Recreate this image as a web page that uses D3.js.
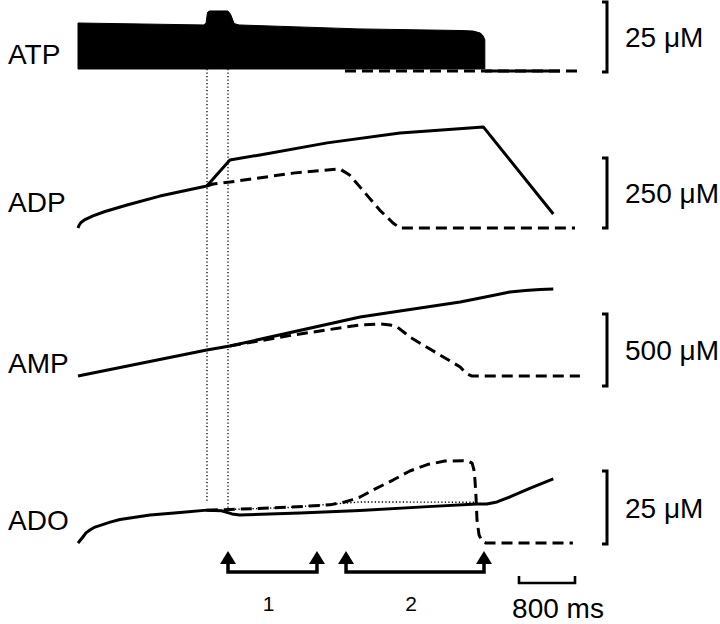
<!DOCTYPE html>
<html>
<head>
<meta charset="utf-8">
<script src="https://cdn.jsdelivr.net/npm/d3@7"></script>
<style>
  body { margin: 0; background: #fff; }
  text { font-family: Arial, "Liberation Sans", sans-serif; fill: #000; }
</style>
</head>
<body>
<div id="chart"></div>
<script>
// trace names and scale bars
const panelNames = ["ATP", "ADP", "AMP", "ADO"];
const scaleLabels = ["25 \u03bcM", "250 \u03bcM", "500 \u03bcM", "25 \u03bcM"];
const scaleMax = [25, 250, 500, 25];

// [time ms, concentration µM]
const atpTop = [[0,17.5],[1800,16.8],[1830,17.6],[1850,21.3],[1880,21.8],[2140,21.8],[2180,20.6],[2230,17.3],[2300,16.8],[4000,15.4],[5500,14.8],[5650,14.6],[5750,13.9],[5790,12.8],[5812,11.5]];
const atpBase = 1.07;
const atpSolidTail = [[5812,0.36],[6886,0.36]];
const atpDashed = [[3814,0.36],[7143,0.36]];

const adpSolid = [[0,0],[14,9],[43,20],[100,30],[214,43],[386,59],[700,82],[1170,114],[1840,150],[2170,243],[2600,261],[3560,304],[4600,339],[5000,346],[5790,361],[6790,50]];
const adpDashed = [[1840,150],[1930,157],[2170,164],[3070,196],[3740,211],[3880,189],[4030,146],[4310,64],[4500,18],[4600,0],[7100,0]];

const ampSolid = [[0,69],[1840,250],[2170,278],[4030,479],[4600,521],[5460,583],[5890,625],[6170,653],[6390,663],[6600,670],[6790,674]];
const ampDashed = [[2170,278],[3070,354],[4030,424],[4170,427],[4310,431],[4460,424],[4560,410],[4670,368],[4740,340],[5460,132],[5510,105],[5560,84],[5630,69],[7170,69]];

const adoSolid = [[0,0.3],[29,1.2],[70,2.4],[114,3.8],[170,4.8],[243,5.8],[460,7.5],[600,8.4],[1030,9.9],[1460,10.8],[1840,11.6],[2050,11.4],[2200,10.3],[2310,9.9],[3170,10.6],[4030,11.5],[5000,12.8],[5700,13.7],[5840,13.7],[5986,14.4],[6170,16.1],[6470,19.2],[6790,22.3]];
const adoDashed = [[1840,11.6],[2170,11.8],[3000,12.6],[3600,13.4],[3810,14.4],[3910,15.1],[4030,16.1],[4240,18.8],[4500,21.9],[4740,25.0],[4990,27.2],[5240,28.4],[5500,28.5],[5570,28.4],[5630,27.7],[5657,25.3],[5671,21.9],[5686,16.1],[5700,8.2],[5729,3.1],[5771,1.0],[5829,0.3],[7070,0.3]];
const adoDotted = [[2143,11.8],[3000,12.5],[4030,14.4],[5700,14.3]];

// dotted markers across panels: time, ADO end value
const markerTimes = [1843, 2143];
const markerEnds = [14.0, 11.6];

// stimulation intervals
const intervals = [[2143,3414],[3829,5800]];
const intervalLabels = ["1", "2"];

const scaleBarStart = 6300, scaleBarMs = 800;

const W = 720, H = 624;
const svg = d3.select("#chart").append("svg")
  .attr("width", W).attr("height", H);

const x = d3.scaleLinear().domain([0, 8000]).range([78, 638]);

// panel y ranges: bracket bottom / top in pixels
const bands = [[72,2],[228,158],[386,314],[544,471]];
const ys = bands.map((b, i) => d3.scaleLinear().domain([0, scaleMax[i]]).range(b));

const line = y => d3.line().x(d => x(d[0])).y(d => y(d[1]));

function trace(data, y, dash, width) {
  svg.append("path")
    .datum(data)
    .attr("d", line(y))
    .attr("fill", "none")
    .attr("stroke", "#000")
    .attr("stroke-width", width || 3)
    .attr("stroke-linejoin", "round")
    .attr("stroke-linecap", "butt")
    .attr("stroke-dasharray", dash || null);
}

// dotted vertical markers
markerTimes.forEach((t, i) => {
  svg.append("line")
    .attr("x1", x(t)).attr("x2", x(t))
    .attr("y1", ys[0](atpBase)).attr("y2", ys[3](markerEnds[i]))
    .attr("stroke", "#000")
    .attr("stroke-width", 1.3)
    .attr("stroke-dasharray", "1.3,2.2");
});

// ATP
trace(atpDashed, ys[0], "11,6");
svg.append("path")
  .datum(atpTop)
  .attr("d", d3.area().x(d => x(d[0])).y0(ys[0](atpBase)).y1(d => ys[0](d[1])))
  .attr("fill", "#000")
  .attr("stroke", "#000")
  .attr("stroke-width", 1);
trace(atpSolidTail, ys[0]);

// ADP, AMP, ADO
trace(adpDashed, ys[1], "11,6");
trace(adpSolid, ys[1]);
trace(ampDashed, ys[2], "11,6");
trace(ampSolid, ys[2]);
trace(adoDotted, ys[3], "1.3,2.2", 1.4);
trace(adoDashed, ys[3], "11,6");
trace(adoSolid, ys[3]);

// left labels
const labelY = [64, 212, 373, 530];
panelNames.forEach((n, i) => {
  svg.append("text")
    .attr("x", 8).attr("y", labelY[i])
    .attr("font-size", 28)
    .text(n);
});

// right scale brackets
const bx = 607;
bands.forEach((b, i) => {
  svg.append("path")
    .attr("d", `M${bx - 5},${b[1]}H${bx}V${b[0]}H${bx - 5}`)
    .attr("fill", "none")
    .attr("stroke", "#000")
    .attr("stroke-width", 3);
  svg.append("text")
    .attr("x", 625).attr("y", (b[0] + b[1]) / 2 + 10)
    .attr("font-size", 28)
    .text(scaleLabels[i]);
});

// interval arrows
const arrowBase = 572, tipY = 551, headY = 564;
intervals.forEach((iv, i) => {
  const x0 = x(iv[0]), x1 = x(iv[1]);
  svg.append("path")
    .attr("d", `M${x0},${headY}V${arrowBase}H${x1}V${headY}`)
    .attr("fill", "none")
    .attr("stroke", "#000")
    .attr("stroke-width", 3.5);
  [x0, x1].forEach(xx => {
    svg.append("path")
      .attr("d", `M${xx},${tipY}L${xx + 8},${headY}L${xx - 8},${headY}Z`)
      .attr("fill", "#000");
  });
  svg.append("text")
    .attr("x", (x0 + x1) / 2 - 4).attr("y", 611)
    .attr("text-anchor", "middle")
    .attr("font-size", 21)
    .text(intervalLabels[i]);
});

// time scale bar
const sx0 = x(scaleBarStart), sx1 = x(scaleBarStart + scaleBarMs);
svg.append("path")
  .attr("d", `M${sx0},576V583H${sx1}V576`)
  .attr("fill", "none")
  .attr("stroke", "#000")
  .attr("stroke-width", 2.6);
svg.append("text")
  .attr("x", (sx0 + sx1) / 2 + 11).attr("y", 618)
  .attr("text-anchor", "middle")
  .attr("font-size", 28)
  .text(`${scaleBarMs} ms`);
</script>
</body>
</html>
